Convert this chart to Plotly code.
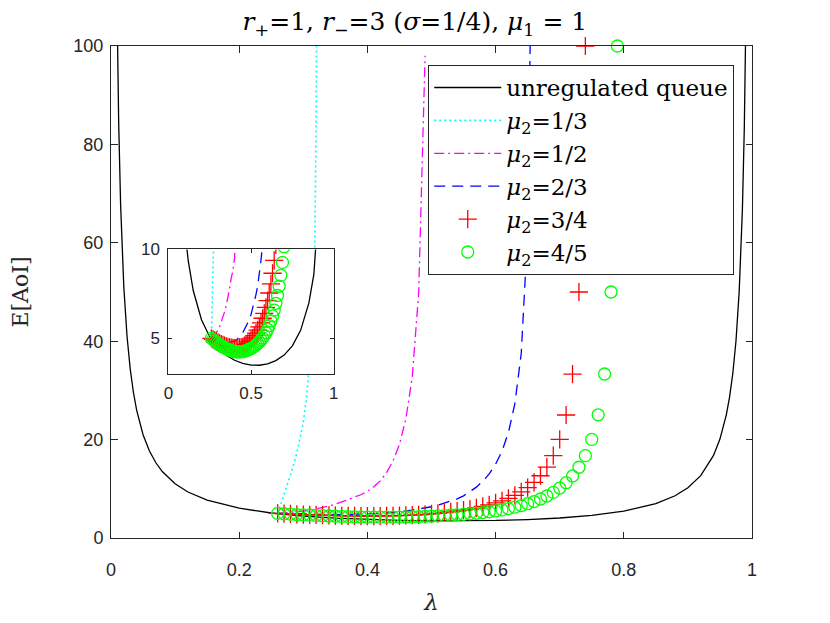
import plotly.graph_objects as go

# ---- data ----
lam_unreg = [0.009, 0.01, 0.012, 0.015, 0.02, 0.025, 0.03, 0.035, 0.04, 0.05, 0.06, 0.07, 0.08,
             0.1, 0.12, 0.15, 0.2, 0.25, 0.3, 0.35, 0.4, 0.45, 0.5, 0.55, 0.6, 0.65, 0.7,
             0.75, 0.8, 0.85, 0.88, 0.9, 0.92, 0.94, 0.95, 0.96, 0.965, 0.97, 0.975, 0.98,
             0.985, 0.988, 0.99, 0.991]
aoi_unreg = [112.1, 101.0, 84.33, 67.67, 51.0, 41.0, 34.33, 29.57, 26.0, 21.0, 17.67, 15.29, 13.51,
             11.01, 9.35, 7.69, 6.05, 5.08, 4.46, 4.05, 3.77, 3.59, 3.5, 3.49, 3.57, 3.75, 4.06,
             4.58, 5.45, 6.99, 8.59, 10.21, 12.67, 16.79, 20.1, 25.08, 28.65, 33.39, 40.05, 50.04,
             66.7, 83.36, 100.02, 111.1]

lam_mu13 = [0.26, 0.265, 0.27, 0.28, 0.29, 0.30, 0.305, 0.31, 0.315, 0.318, 0.32, 0.322]
aoi_mu13 = [5.0, 7.0, 8.9, 12.8, 17.3, 23.5, 28.5, 36.0, 48.0, 60.0, 85.0, 130.0]

lam_mu12 = [0.26, 0.27, 0.28, 0.29, 0.30, 0.31, 0.32, 0.33, 0.34, 0.35, 0.36, 0.37, 0.38,
            0.39, 0.40, 0.41, 0.42, 0.43, 0.44, 0.45, 0.46, 0.47, 0.48, 0.49]
aoi_mu12 = [5.00, 5.10, 5.20, 5.31, 5.45, 5.66, 5.91, 6.18, 6.50, 6.87, 7.29, 7.79, 8.38,
            8.79, 9.5, 10.41, 11.6, 13.29, 15.67, 19.0, 24.2, 32.8, 49.8, 98.0]

lam_mu23 = [0.26, 0.27, 0.28, 0.29, 0.30, 0.31, 0.32, 0.33, 0.34, 0.35, 0.36, 0.37, 0.38,
            0.39, 0.40, 0.41, 0.42, 0.43, 0.44, 0.45, 0.46, 0.47, 0.48, 0.49, 0.50, 0.51,
            0.52, 0.53, 0.54, 0.55, 0.56, 0.57, 0.58, 0.59, 0.60, 0.61, 0.62, 0.63, 0.64,
            0.65, 0.66]
aoi_mu23 = [5.00, 4.96, 4.92, 4.88, 4.86, 4.83, 4.80, 4.79, 4.78, 4.77, 4.77, 4.78, 4.80,
            4.81, 4.85, 4.90, 4.98, 5.08, 5.18, 5.32, 5.49, 5.68, 5.86, 6.06, 6.35, 6.68,
            7.07, 7.47, 7.95, 8.57, 9.38, 10.34, 11.54, 13.04, 15.0, 17.65, 21.43, 27.27, 37.5,
            62.0, 160.0]

lam_mu34 = [0.26, 0.27, 0.28, 0.29, 0.30, 0.31, 0.32, 0.33, 0.34, 0.35, 0.36, 0.37, 0.38,
            0.39, 0.40, 0.41, 0.42, 0.43, 0.44, 0.45, 0.46, 0.47, 0.48, 0.49, 0.50, 0.51,
            0.52, 0.53, 0.54, 0.55, 0.56, 0.57, 0.58, 0.59, 0.60, 0.61, 0.62, 0.63, 0.64,
            0.65, 0.66, 0.67, 0.68, 0.69, 0.70, 0.71, 0.72, 0.73, 0.74]
aoi_mu34 = [5.00, 4.94, 4.89, 4.82, 4.77, 4.72, 4.68, 4.63, 4.59, 4.55, 4.52, 4.50, 4.48,
            4.47, 4.46, 4.46, 4.47, 4.49, 4.51, 4.53, 4.59, 4.65, 4.72, 4.81, 4.90, 5.02,
            5.15, 5.30, 5.46, 5.65, 5.87, 6.13, 6.41, 6.74, 7.12, 7.55, 8.06, 8.66, 9.38,
            10.25, 11.31, 12.65, 14.39, 16.74, 20.05, 25.0, 33.3, 50.0, 100.0]

lam_mu45 = [0.26, 0.27, 0.28, 0.29, 0.30, 0.31, 0.32, 0.33, 0.34, 0.35, 0.36, 0.37, 0.38,
            0.39, 0.40, 0.41, 0.42, 0.43, 0.44, 0.45, 0.46, 0.47, 0.48, 0.49, 0.50, 0.51,
            0.52, 0.53, 0.54, 0.55, 0.56, 0.57, 0.58, 0.59, 0.60, 0.61, 0.62, 0.63, 0.64,
            0.65, 0.66, 0.67, 0.68, 0.69, 0.70, 0.71, 0.72, 0.73, 0.74, 0.75, 0.76, 0.77,
            0.78, 0.79]
aoi_mu45 = [5.00, 4.93, 4.85, 4.77, 4.70, 4.64, 4.58, 4.53, 4.47, 4.42, 4.38, 4.35, 4.31,
            4.28, 4.25, 4.24, 4.24, 4.24, 4.25, 4.26, 4.28, 4.31, 4.35, 4.39, 4.43, 4.49,
            4.55, 4.62, 4.71, 4.80, 4.91, 5.03, 5.17, 5.32, 5.50, 5.72, 5.98, 6.26, 6.59,
            6.97, 7.41, 7.93, 8.54, 9.27, 10.15, 11.24, 12.61, 14.38, 16.74, 20.05, 25.04, 33.33,
            50.0, 100.0]

x_ticks = [0, 0.2, 0.4, 0.6, 0.8, 1]
x_tick_labels = ["0", "0.2", "0.4", "0.6", "0.8", "1"]
y_ticks = [0, 20, 40, 60, 80, 100]
y_tick_labels = ["0", "20", "40", "60", "80", "100"]
inset_x_ticks = [0, 0.5, 1]
inset_x_tick_labels = ["0", "0.5", "1"]
inset_y_ticks = [5, 10]
inset_y_tick_labels = ["5", "10"]

names = ["unregulated queue", "<i>μ</i><sub>2</sub>=1/3", "<i>μ</i><sub>2</sub>=1/2",
         "<i>μ</i><sub>2</sub>=2/3", "<i>μ</i><sub>2</sub>=3/4", "<i>μ</i><sub>2</sub>=4/5"]

SERIF = "DejaVu Serif"
SANS = "Liberation Sans"
AX = "#262626"

fig = go.Figure()

def add_all(xa, ya, main):
    leg = main
    fig.add_trace(go.Scatter(x=lam_unreg, y=aoi_unreg, mode="lines", name=names[0],
                             line=dict(color="black", width=1.3), xaxis=xa, yaxis=ya,
                             showlegend=leg, legendgroup="g0"))
    fig.add_trace(go.Scatter(x=lam_mu13, y=aoi_mu13, mode="lines", name=names[1],
                             line=dict(color="#00FFFF", width=1.6, dash="2px,3px"),
                             xaxis=xa, yaxis=ya, showlegend=leg, legendgroup="g1"))
    fig.add_trace(go.Scatter(x=lam_mu12, y=aoi_mu12, mode="lines", name=names[2],
                             line=dict(color="#FF00FF", width=1.3, dash="10px,4px,2px,4px"),
                             xaxis=xa, yaxis=ya, showlegend=leg, legendgroup="g2"))
    fig.add_trace(go.Scatter(x=lam_mu23, y=aoi_mu23, mode="lines", name=names[3],
                             line=dict(color="#0000FF", width=1.3, dash="11px,7px"),
                             xaxis=xa, yaxis=ya, showlegend=leg, legendgroup="g3"))
    fig.add_trace(go.Scatter(x=lam_mu34, y=aoi_mu34, mode="markers", name=names[4],
                             marker=dict(symbol="cross-thin-open", size=13, color="#FF0000",
                                         line=dict(color="#FF0000", width=1.3)),
                             xaxis=xa, yaxis=ya, showlegend=leg, legendgroup="g4",
                             cliponaxis=not main))
    fig.add_trace(go.Scatter(x=lam_mu45, y=aoi_mu45, mode="markers", name=names[5],
                             marker=dict(symbol="circle-open", size=12, color="#00FF00",
                                         line=dict(color="#00FF00", width=1.3)),
                             xaxis=xa, yaxis=ya, showlegend=leg, legendgroup="g5",
                             cliponaxis=not main))

add_all("x", "y", True)
add_all("x2", "y2", False)

axis_common = dict(showgrid=False, zeroline=False, showline=True, linecolor=AX, linewidth=1,
                   mirror="allticks", ticks="inside", tickcolor=AX, tickwidth=1)

# page body has an 8px default margin: figure is 822x615 so plot area lands where the reference has it
fig.update_layout(
    width=822, height=615,
    margin=dict(l=100, r=78, t=38, b=84),
    paper_bgcolor="white", plot_bgcolor="white",
    title=dict(text="<i>r</i><sub>+</sub>=1, <i>r</i><sub>−</sub>=3 (<i>σ</i>=1/4), <i>μ</i><sub>1</sub> = 1",
               x=0.495, xanchor="center", y=0.978, yanchor="middle",
               font=dict(family=SERIF, size=25, color="black")),
    xaxis=dict(domain=[0, 1], range=[0, 1], tickvals=x_ticks, ticktext=x_tick_labels,
               ticklen=6.5, ticklabelstandoff=15,
               tickfont=dict(family=SANS, size=18, color=AX),
               title=dict(text="<i>λ</i>", font=dict(family=SERIF, size=23, color=AX), standoff=15),
               **axis_common),
    yaxis=dict(domain=[0, 1], range=[0, 100], tickvals=y_ticks, ticktext=y_tick_labels,
               ticklen=6.5, ticklabelstandoff=3,
               tickfont=dict(family=SANS, size=18, color=AX),
               title=dict(text="E[AoI]", font=dict(family=SERIF, size=22, color=AX), standoff=38),
               **axis_common),
    xaxis2=dict(domain=[0.0896, 0.3474], range=[0, 1], anchor="y2",
                tickvals=inset_x_ticks, ticktext=inset_x_tick_labels,
                ticklen=3.5, ticklabelstandoff=4,
                tickfont=dict(family=SANS, size=17, color=AX), **axis_common),
    yaxis2=dict(domain=[0.3334, 0.5866], range=[3, 10], anchor="x2",
                tickvals=inset_y_ticks, ticktext=inset_y_tick_labels,
                ticklen=3.5, ticklabelstandoff=4,
                tickfont=dict(family=SANS, size=17, color=AX), **axis_common),
    legend=dict(x=0.4949, xanchor="left", y=0.9613, yanchor="top",
                bgcolor="white", bordercolor=AX, borderwidth=1,
                font=dict(family=SERIF, size=23, color="black"),
                traceorder="grouped", tracegroupgap=0, itemwidth=67),
    showlegend=True,
)

fig.write_html("out.html")
